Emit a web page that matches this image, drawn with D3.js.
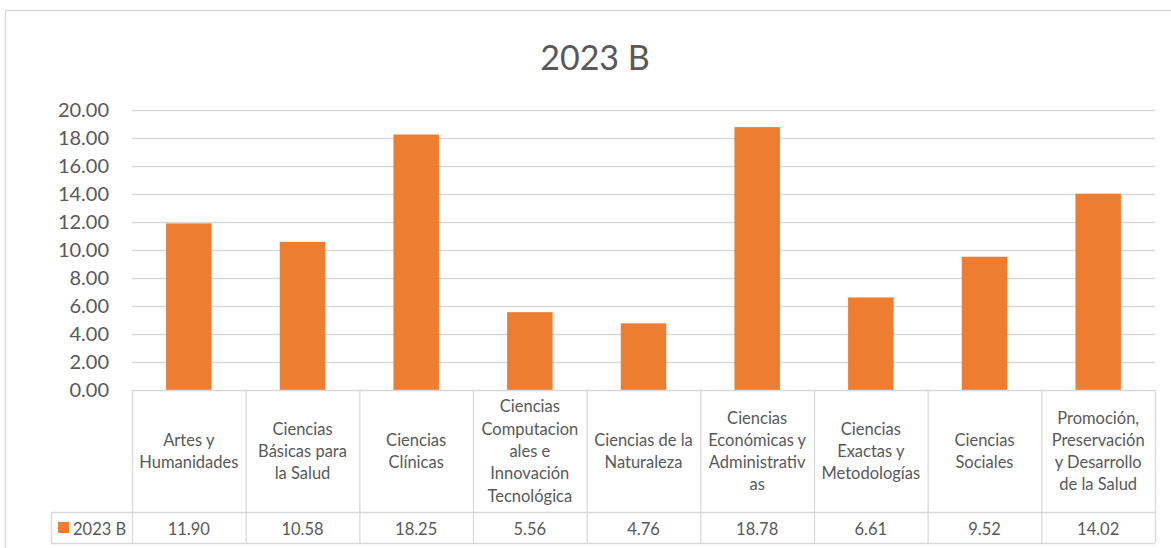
<!DOCTYPE html>
<html>
<head>
<meta charset="utf-8">
<script src="https://cdn.jsdelivr.net/npm/d3@7"></script>
<style>
  html, body { margin: 0; padding: 0; background: #fff; }
  svg { display: block; }
  text { font-family: Lato, "Open Sans", sans-serif; fill: #595959; }
</style>
</head>
<body>
<svg id="chart" width="1171" height="548"></svg>
<script>
const title = "2023 B";
const seriesName = "2023 B";
const categories = [
  "Artes y Humanidades",
  "Ciencias Básicas para la Salud",
  "Ciencias Clínicas",
  "Ciencias Computacionales e Innovación Tecnológica",
  "Ciencias de la Naturaleza",
  "Ciencias Económicas y Administrativas",
  "Ciencias Exactas y Metodologías",
  "Ciencias Sociales",
  "Promoción, Preservación y Desarrollo de la Salud"
];
const categoryLines = [
  ["Artes y", "Humanidades"],
  ["Ciencias", "Básicas para", "la Salud"],
  ["Ciencias", "Clínicas"],
  ["Ciencias", "Computacion", "ales e", "Innovación", "Tecnológica"],
  ["Ciencias de la", "Naturaleza"],
  ["Ciencias", "Económicas y", "Administrativ", "as"],
  ["Ciencias", "Exactas y", "Metodologías"],
  ["Ciencias", "Sociales"],
  ["Promoción,", "Preservación", "y Desarrollo", "de la Salud"]
];
const values = [11.90, 10.58, 18.25, 5.56, 4.76, 18.78, 6.61, 9.52, 14.02];
const yTicks = [0, 2, 4, 6, 8, 10, 12, 14, 16, 18, 20];

const svg = d3.select("#chart");
const gridColor = "#D9D9D9";
const barColor = "#ED7D31";

const plot = { left: 132, right: 1155, top: 110, bottom: 390 };
const table = { headerBottom: 512, rowBottom: 543, legendLeft: 51 };

// chart frame
svg.append("path")
  .attr("d", `M5.5,560 V10.5 H1180`)
  .attr("fill", "none").attr("stroke", gridColor).attr("stroke-width", 1.3);

// title
svg.append("text")
  .attr("x", 595).attr("y", 56)
  .attr("text-anchor", "middle").attr("dominant-baseline", "central")
  .style("font-size", "34px")
  .text(title);

const x = d3.scaleBand()
  .domain(categories)
  .range([plot.left, plot.right])
  .paddingInner(0.6).paddingOuter(0.3);

const y = d3.scaleLinear().domain([0, 20]).range([plot.bottom, plot.top]);

// gridlines
svg.append("g").selectAll("line").data(yTicks.filter(t => t > 0)).join("line")
  .attr("x1", plot.left).attr("x2", plot.right)
  .attr("y1", d => y(d) + 0.5).attr("y2", d => y(d) + 0.5)
  .attr("stroke", gridColor).attr("stroke-width", 1.3);

// y axis labels
const yAxis = d3.axisLeft(y).tickValues(yTicks).tickFormat(d3.format(".2f")).tickSize(0).tickPadding(0);
const gy = svg.append("g").attr("transform", `translate(${plot.left - 23},0)`).call(yAxis);
gy.select(".domain").remove();
gy.selectAll("text").style("font-size", "20px").style("fill", "#595959")
  .style("font-family", "Lato, 'Open Sans', sans-serif");

// bars
svg.append("g").selectAll("rect").data(values).join("rect")
  .attr("x", (d, i) => x(categories[i]))
  .attr("width", x.bandwidth())
  .attr("y", d => y(d))
  .attr("height", d => y(0) - y(d))
  .attr("fill", barColor);

// data table
const edges = categories.map(c => x(c) - x.bandwidth() * 0.75).concat([plot.right]);
const tg = svg.append("g").attr("stroke", gridColor).attr("stroke-width", 1.3);
tg.append("line").attr("x1", plot.left).attr("x2", plot.right).attr("y1", plot.bottom + 0.5).attr("y2", plot.bottom + 0.5);
tg.append("line").attr("x1", table.legendLeft).attr("x2", plot.right).attr("y1", table.headerBottom + 0.5).attr("y2", table.headerBottom + 0.5);
tg.append("line").attr("x1", table.legendLeft).attr("x2", plot.right).attr("y1", table.rowBottom + 0.5).attr("y2", table.rowBottom + 0.5);
tg.append("line").attr("x1", table.legendLeft + 0.5).attr("x2", table.legendLeft + 0.5).attr("y1", table.headerBottom).attr("y2", table.rowBottom);
edges.forEach(e => {
  tg.append("line").attr("x1", e + 0.5).attr("x2", e + 0.5).attr("y1", plot.bottom).attr("y2", table.rowBottom);
});

const lineH = 22.3;
const headerMid = (plot.bottom + table.headerBottom) / 2;
const hg = svg.append("g");
categories.forEach((c, i) => {
  const cx = x(c) + x.bandwidth() / 2;
  const lines = categoryLines[i];
  const t = hg.append("text")
    .attr("text-anchor", "middle")
    .style("font-size", "16.5px");
  lines.forEach((ln, j) => {
    t.append("tspan")
      .attr("x", cx)
      .attr("y", headerMid + (j - (lines.length - 1) / 2) * lineH)
      .attr("dominant-baseline", "central")
      .text(ln);
  });
});

// values row
const rowMid = (table.headerBottom + table.rowBottom) / 2;
svg.append("g").selectAll("text").data(values).join("text")
  .attr("x", (d, i) => x(categories[i]) + x.bandwidth() / 2)
  .attr("y", rowMid + 1)
  .attr("text-anchor", "middle").attr("dominant-baseline", "central")
  .style("font-size", "16.5px")
  .text(d => d3.format(".2f")(d));

// legend key in table
svg.append("rect").attr("x", 58).attr("y", 522).attr("width", 11).attr("height", 11).attr("fill", barColor);
svg.append("text").attr("x", 73).attr("y", rowMid + 1)
  .attr("dominant-baseline", "central")
  .style("font-size", "16.5px")
  .text(seriesName);
</script>
</body>
</html>
